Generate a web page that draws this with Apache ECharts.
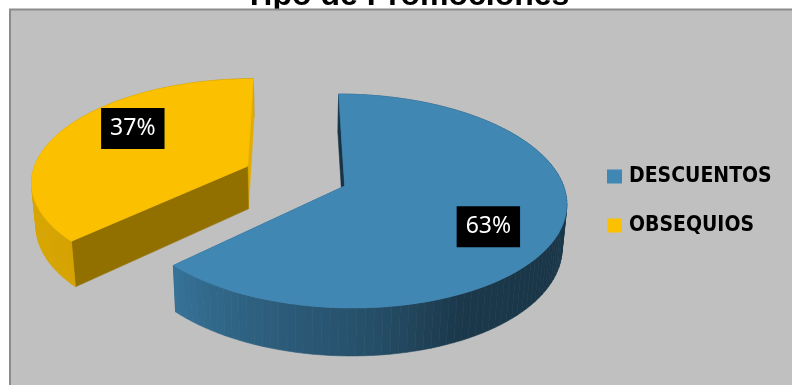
<!DOCTYPE html>
<html>
<head>
<meta charset="utf-8">
<script src="https://cdn.jsdelivr.net/npm/echarts@6/dist/echarts.min.js"></script>
<style>
  html, body { margin: 0; padding: 0; background: #ffffff; }
  #chart { width: 792px; height: 385px; }
</style>
</head>
<body>
<div id="chart"></div>
<script>
// ---- data ----
const chartTitle = 'Tipo de Promociones';
const categories = ['DESCUENTOS', 'OBSEQUIOS'];
const values = [63, 37];
const sliceColors = ['#4087b3', '#fbc000'];

// ---- 3D pie view (layout only) ----
// cx, cy: projected pie centre; scale: px per unit radius; tilt: camera elevation (deg);
// persp: radius / camera distance; depth: slab thickness (in radii); explode: slice offset (in radii)
const VIEW = { cx: 295.5, cy: 176, scale: 216, tilt: 28.2, persp: 0.1566, depth: 0.23, explode: 0.2446 };
// where each percentage box sits inside its slice: turn from mid-angle (deg), radius fraction
const LABEL_SPOT = [ { turn: -7.6, r: 0.713 }, { turn: -11.2, r: 0.705 } ];

const rad = d => d * Math.PI / 180;
const sinT = Math.sin(rad(VIEW.tilt));
const cosT = Math.cos(rad(VIEW.tilt));
const total = values.reduce((a, b) => a + b, 0);

// world point (X right, Z away from viewer, Y up) -> screen [x, y, depth]
function project(X, Z, Y) {
  const yc = Z * sinT + Y * cosT;
  const zc = 1 + VIEW.persp * (Z * cosT - Y * sinT);
  return [VIEW.cx + VIEW.scale * X / zc, VIEW.cy - VIEW.scale * yc / zc, zc];
}

// slices run clockwise from 12 o'clock
function sliceAngles(i) {
  let before = 0;
  for (let j = 0; j < i; j++) before += values[j];
  const start = 90 - 360 * before / total;
  const end = 90 - 360 * (before + values[i]) / total;
  return { start, end, mid: (start + end) / 2 };
}

function shade(hex, f) {
  const n = parseInt(hex.slice(1), 16);
  const c = [(n >> 16) & 255, (n >> 8) & 255, n & 255].map(v => Math.max(0, Math.min(255, Math.round(v * f))));
  return 'rgb(' + c.join(',') + ')';
}

// light on the rounded rim, by outward normal angle
const CURVE_LIGHT = [[0, 0.43], [90, 0.6], [180, 0.87], [223, 0.85], [245, 0.72], [262, 0.64], [275, 0.58], [295, 0.42], [330, 0.4], [360, 0.43]];
function curveLight(deg) {
  const a = ((deg % 360) + 360) % 360;
  for (let k = 1; k < CURVE_LIGHT.length; k++) {
    const [a0, f0] = CURVE_LIGHT[k - 1], [a1, f1] = CURVE_LIGHT[k];
    if (a <= a1) return f0 + (f1 - f0) * (a - a0) / (a1 - a0);
  }
  return CURVE_LIGHT[CURVE_LIGHT.length - 1][1];
}
// light on the flat cut faces
function flatLight(deg) {
  return 0.64 + 0.416 * Math.cos(rad(deg - 51.3));
}

const xy = p => [p[0], p[1]];

function renderSlice(params, api) {
  const i = params.seriesIndex;
  const value = api.value(0);
  const color = sliceColors[i];
  const { start, end, mid } = sliceAngles(i);
  const ox = VIEW.explode * Math.cos(rad(mid));
  const oz = VIEW.explode * Math.sin(rad(mid));
  const bottom = -VIEW.depth;
  const rim = (deg, Y) => project(ox + Math.cos(rad(deg)), oz + Math.sin(rad(deg)), Y);
  const apex = Y => project(ox, oz, Y);

  const steps = Math.max(12, Math.ceil((start - end) / 2));
  const walls = [];
  for (let s = 0; s < steps; s++) {
    const a = start - (start - end) * s / steps;
    const b = start - (start - end) * (s + 1) / steps;
    const pts = [rim(a, 0), rim(b, 0), rim(b, bottom), rim(a, bottom)];
    walls.push({ pts, depth: (pts[0][2] + pts[1][2]) / 2, fill: shade(color, curveLight((a + b) / 2)) });
  }
  [[start, start + 90], [end, end - 90]].forEach(([deg, normal]) => {
    const pts = [apex(0), rim(deg, 0), rim(deg, bottom), apex(bottom)];
    walls.push({ pts, depth: (pts[0][2] + pts[1][2]) / 2, fill: shade(color, flatLight(normal)) });
  });
  walls.sort((p, q) => q.depth - p.depth);

  const children = walls.map((w, k) => ({
    type: 'polygon',
    shape: { points: w.pts.map(xy) },
    style: { fill: w.fill, stroke: w.fill, lineWidth: 0.6 },
    z2: k
  }));

  const topFace = [xy(apex(0))];
  for (let s = 0; s <= steps; s++) topFace.push(xy(rim(start - (start - end) * s / steps, 0)));
  children.push({
    type: 'polygon',
    shape: { points: topFace },
    style: { fill: color, stroke: color, lineWidth: 0.6 },
    z2: 500
  });

  const la = mid + LABEL_SPOT[i].turn;
  const lr = LABEL_SPOT[i].r;
  const lp = project(ox + lr * Math.cos(rad(la)), oz + lr * Math.sin(rad(la)), 0);
  children.push({
    type: 'text',
    x: lp[0],
    y: lp[1],
    style: {
      text: Math.round(value / total * 100) + '%',
      fill: '#ffffff',
      fontFamily: 'Noto Sans',
      fontSize: 23,
      lineHeight: 25,
      align: 'center',
      verticalAlign: 'middle',
      backgroundColor: '#000000',
      padding: [8, 9, 8, 9]
    },
    z2: 1000
  });

  return { type: 'group', children };
}

const chart = echarts.init(document.getElementById('chart'), null, { renderer: 'canvas' });
chart.setOption({
  animation: false,
  backgroundColor: '#ffffff',
  graphic: [
    {
      type: 'text',
      z: 0,
      style: {
        text: chartTitle,
        x: 407,
        y: -3.6,
        align: 'center',
        verticalAlign: 'middle',
        fontFamily: 'Liberation Sans',
        fontWeight: 'bold',
        fontSize: 32,
        lineHeight: 32,
        fill: '#000000'
      }
    },
    {
      type: 'rect',
      z: 1,
      shape: { x: 10, y: 9.5, width: 800, height: 400 },
      style: { fill: '#c0c0c0', stroke: '#8c8c8c', lineWidth: 2 }
    }
  ],
  legend: {
    orient: 'vertical',
    left: 602,
    top: 161,
    icon: 'rect',
    itemWidth: 15,
    itemHeight: 14,
    itemGap: 28,
    selectedMode: false,
    data: categories,
    textStyle: {
      fontFamily: "'Liberation Sans Narrow', 'DejaVu Sans Condensed', sans-serif",
      fontWeight: 'bold',
      fontSize: 21,
      lineHeight: 20,
      color: '#000000',
      padding: [0, 0, 0, 2]
    }
  },
  series: categories.map((name, i) => ({
    type: 'custom',
    name,
    coordinateSystem: 'none',
    z: 2,
    itemStyle: { color: sliceColors[i] },
    data: [[values[i]]],
    renderItem: renderSlice
  }))
});
</script>
</body>
</html>
